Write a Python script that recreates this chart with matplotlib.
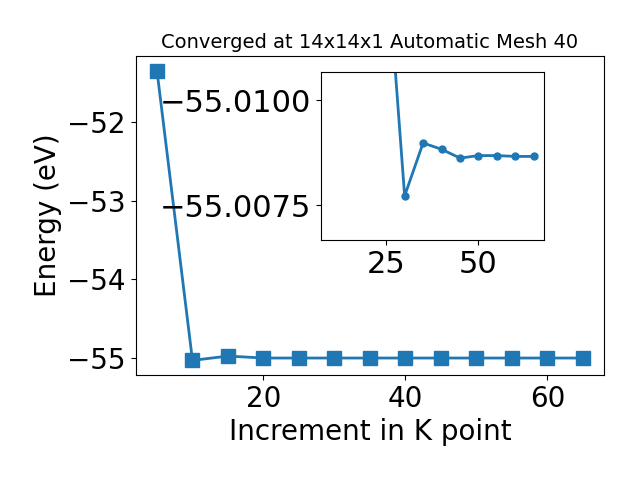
import matplotlib
matplotlib.use('Agg')
import matplotlib.pyplot as plt
from matplotlib.ticker import FuncFormatter

# main convergence data
kpoints = [5, 10, 15, 20, 25, 30, 35, 40, 45, 50, 55, 60, 65]
energy = [-51.35, -55.03, -54.975, -55.0, -55.0, -55.0, -55.0, -55.0,
          -55.0, -55.0, -55.0, -55.0, -55.0]

# zoomed-in data for the inset
inset_k = [10, 15, 20, 25, 30, 35, 40, 45, 50, 55, 60, 65]
inset_e = [-55.035, -55.026, -55.020, -55.01362, -55.00772, -55.00898,
           -55.00883, -55.00862, -55.00868, -55.00868, -55.00866, -55.00866]


def minus_fmt(x, pos):
    return ('%.4f' % x).replace('-', '\u2212')


fig = plt.figure(figsize=(6.4, 4.8), dpi=100)
ax = fig.add_axes([0.212, 0.219, 0.732, 0.664])
ax.plot(kpoints, energy, marker='s', markersize=10, linewidth=2, color='C0')
ax.set_xlabel('Increment in K point', fontsize=20)
ax.set_ylabel('Energy (eV)', fontsize=20)
ax.set_title('Converged at 14x14x1 Automatic Mesh 40', fontsize=14)
ax.tick_params(labelsize=20)
ax.set_xticks([20, 40, 60])
ax.set_yticks([-52, -53, -54, -55])

ins = fig.add_axes([0.501, 0.5, 0.349, 0.35])
ins.plot(inset_k, inset_e, marker='o', markersize=5, linewidth=2, color='C0')
ins.set_ylim(-55.00667, -55.01067)
ins.set_yticks([-55.0100, -55.0075])
ins.yaxis.set_major_formatter(FuncFormatter(minus_fmt))
ins.set_xticks([25, 50])
ins.tick_params(labelsize=22)

plt.savefig('out.png')
